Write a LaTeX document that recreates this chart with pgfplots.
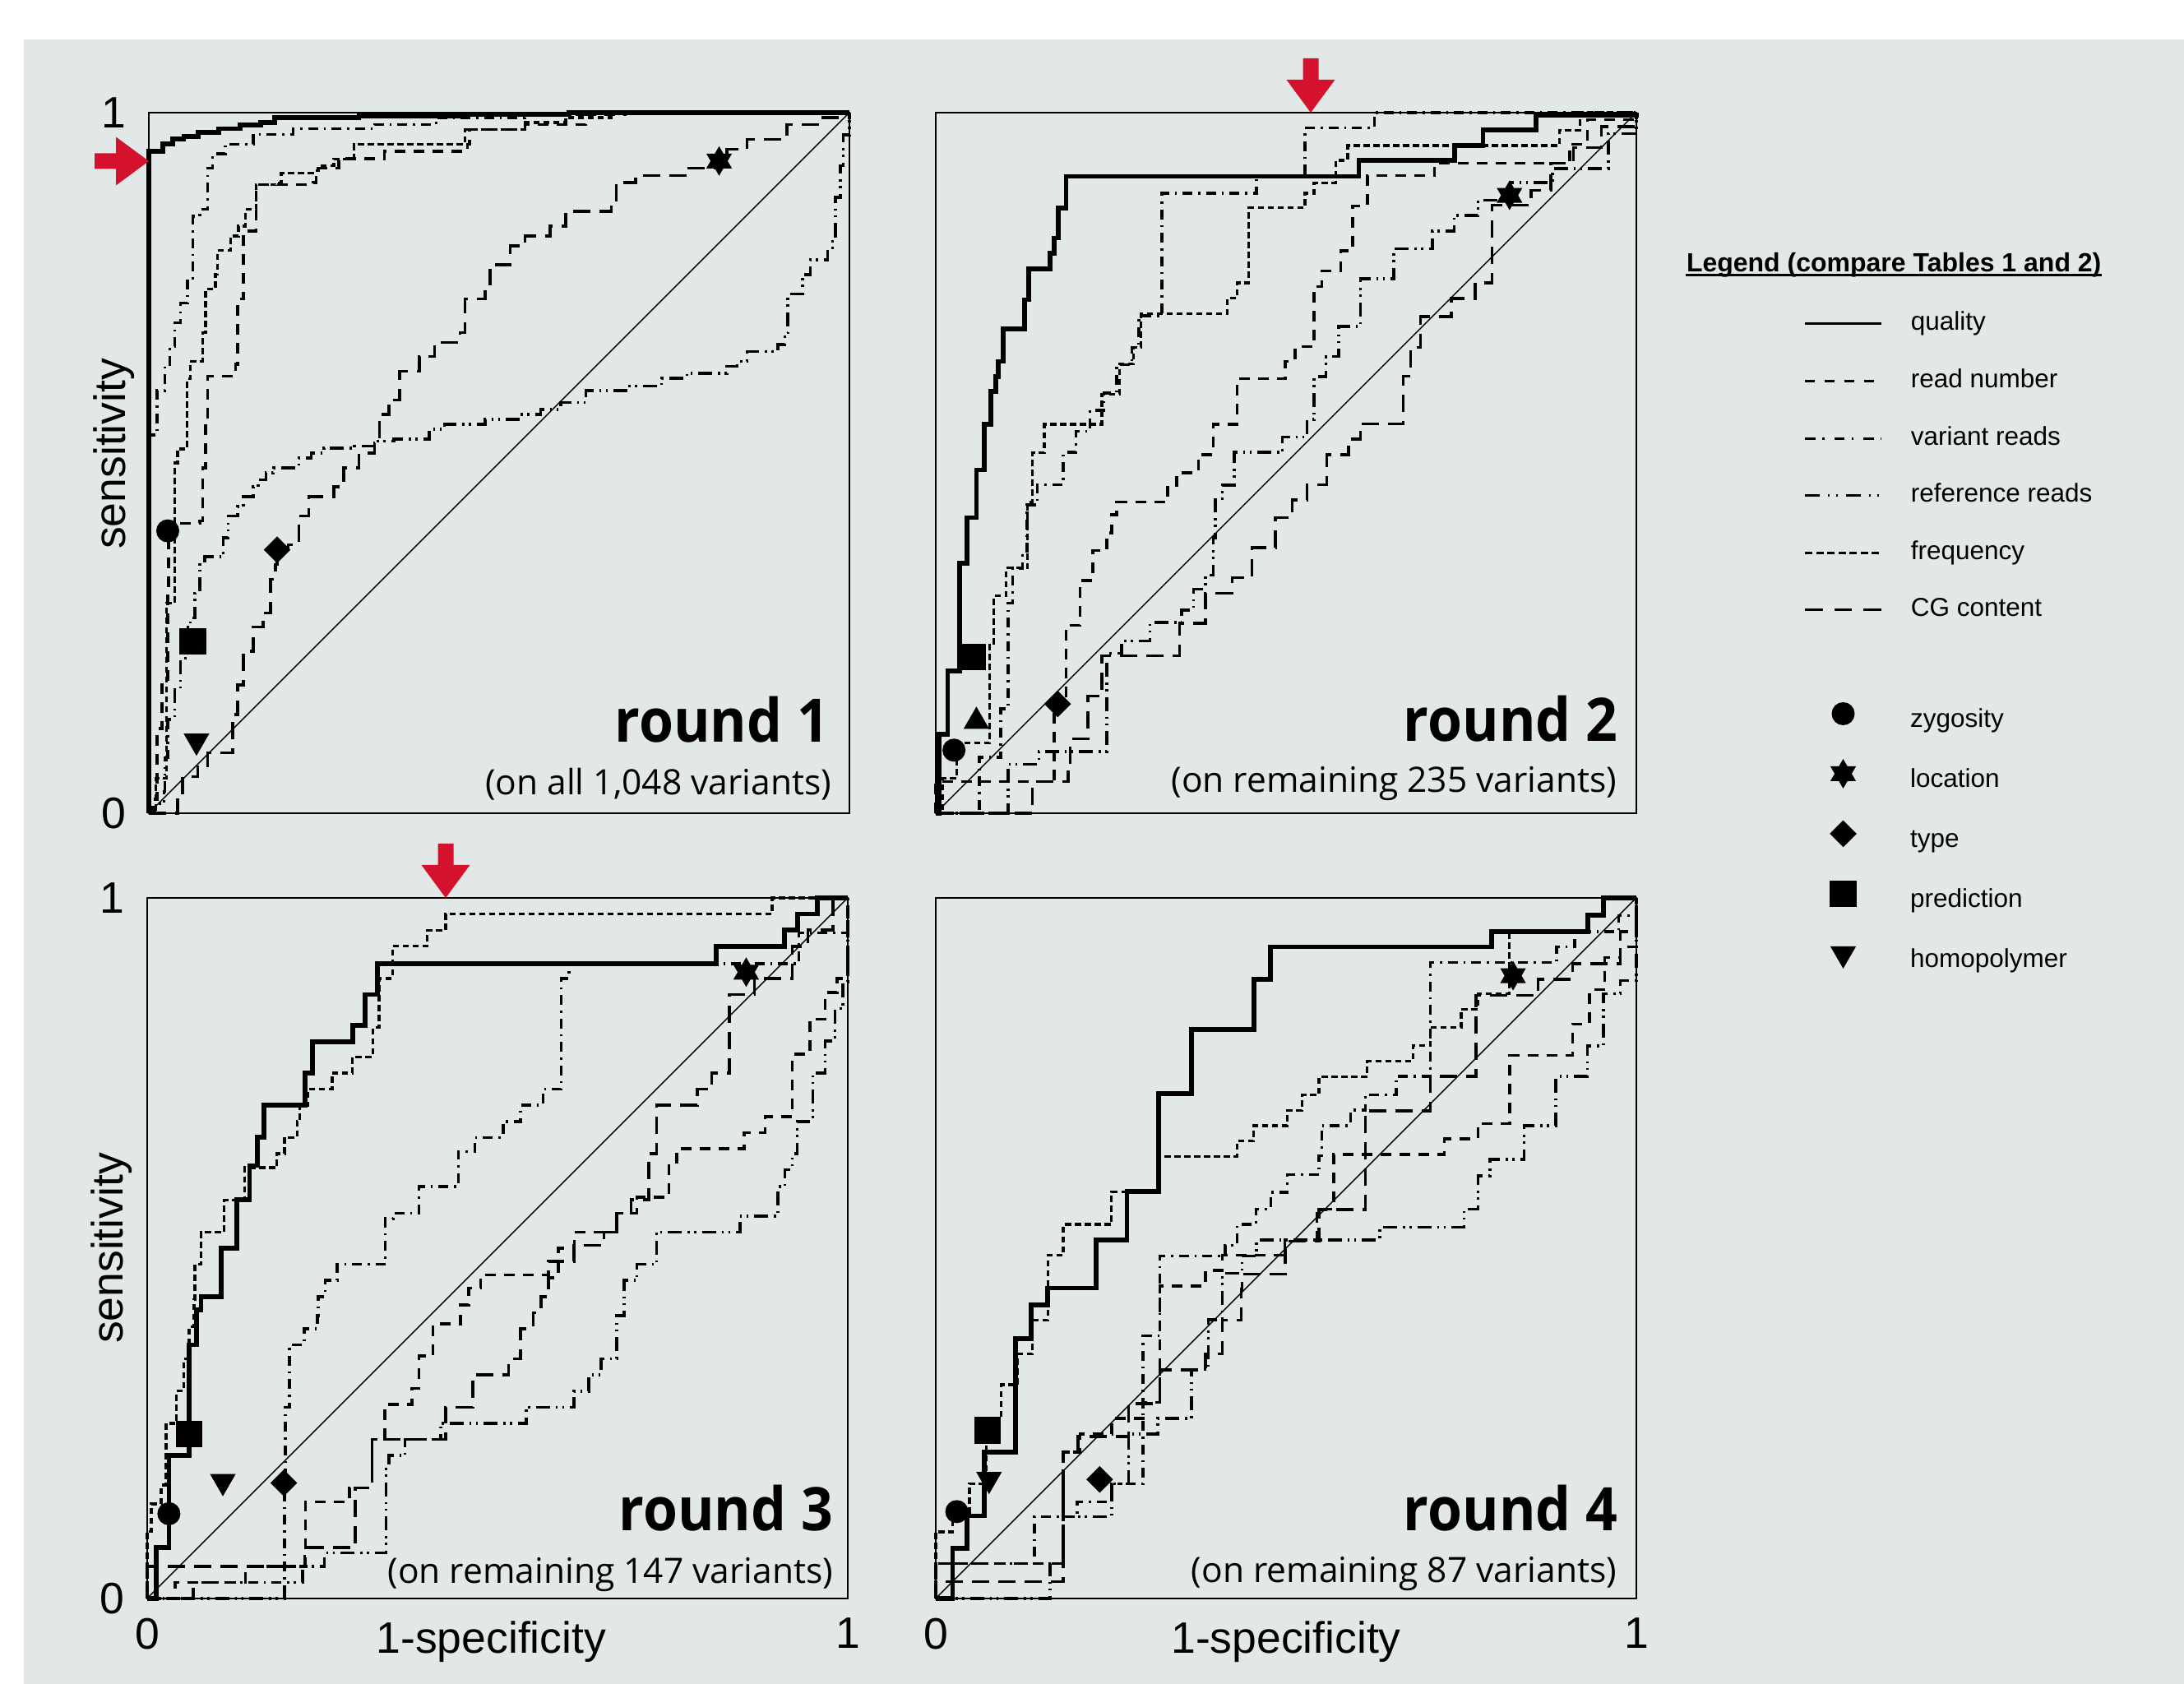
\documentclass[border=0pt]{standalone}
\usepackage{pgfplots}
\pgfplotsset{compat=1.18}
\usepackage{fontspec}
\setmainfont{Liberation Sans}
\newfontfamily\roundfont[FakeStretch=0.93]{Open Sans}
\newfontfamily\subfont{Open Sans}
\definecolor{bg}{RGB}{226,231,231}
\definecolor{arrowred}{RGB}{213,18,46}

\pgfdeclareplotmark{hexstar}{%
  \pgfpathmoveto{\pgfpointpolar{90}{\pgfplotmarksize}}%
  \pgfpathlineto{\pgfpointpolar{210}{\pgfplotmarksize}}%
  \pgfpathlineto{\pgfpointpolar{330}{\pgfplotmarksize}}%
  \pgfpathclose
  \pgfpathmoveto{\pgfpointpolar{270}{\pgfplotmarksize}}%
  \pgfpathlineto{\pgfpointpolar{30}{\pgfplotmarksize}}%
  \pgfpathlineto{\pgfpointpolar{150}{\pgfplotmarksize}}%
  \pgfpathclose
  \pgfusepathqfillstroke
}

\tikzset{
  roundstyle/.style={inner sep=0pt, anchor=base east, font=\roundfont\bfseries\fontsize{14.6}{16}\selectfont},
  substyle/.style={inner sep=0pt, anchor=base east, font=\subfont\fontsize{8.5}{10}\selectfont},
  labstyle/.style={inner sep=0pt, anchor=base, font=\fontsize{10.7}{12}\selectfont},
}

\pgfplotsset{
  panel/.style={scale only axis, width=170.4pt, height=170.4pt, anchor=south west,
    xmin=0, xmax=1, ymin=0, ymax=1, clip=false,
    axis line style={line width=0.3pt}, major tick length=0pt,
    /pgf/number format/assume math mode=true,
    tick label style={font=\fontsize{10.7}{12}\selectfont},
    yticklabel style={xshift=-2.0pt}, xticklabel style={yshift=-1.3pt}},
  quality/.style={const plot, no marks, line width=1.15pt},
  readnum/.style={const plot, no marks, line width=0.7pt, dash pattern=on 2.6pt off 2pt},
  varreads/.style={const plot, no marks, line width=0.7pt, dash pattern=on 2.4pt off 1.4pt on 0.5pt off 1.4pt},
  refreads/.style={const plot, no marks, line width=0.7pt, dash pattern=on 3.4pt off 1.4pt on 0.5pt off 1.1pt on 0.5pt off 1.4pt},
  freq/.style={const plot, no marks, line width=0.65pt, dash pattern=on 1.5pt off 0.9pt},
  cg/.style={const plot, no marks, line width=0.7pt, dash pattern=on 4.2pt off 2.2pt},
  diag/.style={no marks, line width=0.28pt},
  zyg/.style={only marks, mark=*, mark size=2.6pt, mark options={fill=black}},
  loc/.style={only marks, mark=hexstar, mark size=3.2pt, mark options={fill=black}},
  typ/.style={only marks, mark=square*, mark size=2.1pt, mark options={rotate=45, fill=black}},
  pred/.style={only marks, mark=square*, mark size=3.05pt, mark options={fill=black}},
  homo/.style={only marks, mark=triangle*, mark size=3.2pt, mark options={rotate=180, fill=black}},
  homoup/.style={only marks, mark=triangle*, mark size=3.2pt, mark options={fill=black}},
}

\begin{document}
\begin{tikzpicture}
\fill[white] (0pt,0pt) rectangle (531.2pt,409.6pt);
\fill[bg] (5.8pt,0pt) rectangle (531.2pt,400.0pt);

% ---------------- Panel 1 ----------------
\begin{axis}[panel, at={(36.2pt,211.8pt)}, xtick=\empty, ytick={0,1}]
\addplot[diag] coordinates {(0,0)(1,1)};
\addplot[cg] coordinates {(0,0)(0.041,0.024)(0.048,0.052)(0.070,0.066)(0.084,0.086)(0.120,0.141)(0.127,0.183)(0.135,0.231)(0.149,0.266)(0.163,0.286)(0.174,0.334)(0.181,0.355)(0.183,0.376)(0.199,0.383)(0.214,0.424)(0.228,0.452)(0.264,0.466)(0.278,0.493)(0.300,0.514)(0.322,0.528)(0.329,0.569)(0.343,0.590)(0.358,0.631)(0.386,0.652)(0.408,0.672)(0.444,0.686)(0.451,0.734)(0.480,0.755)(0.487,0.783)(0.516,0.810)(0.537,0.824)(0.573,0.838)(0.595,0.859)(0.660,0.872)(0.667,0.900)(0.695,0.910)(0.768,0.921)(0.811,0.931)(0.825,0.948)(0.854,0.962)(0.911,0.983)(0.962,0.993)(1,1)};
\addplot[refreads] coordinates {(0,0)(0.009,0.014)(0.022,0.031)(0.023,0.079)(0.027,0.134)(0.037,0.176)(0.045,0.221)(0.052,0.266)(0.059,0.279)(0.066,0.314)(0.073,0.355)(0.080,0.366)(0.106,0.393)(0.113,0.424)(0.127,0.438)(0.135,0.452)(0.149,0.466)(0.156,0.476)(0.167,0.486)(0.178,0.493)(0.214,0.507)(0.232,0.514)(0.250,0.521)(0.293,0.524)(0.322,0.531)(0.350,0.534)(0.400,0.548)(0.422,0.555)(0.480,0.562)(0.530,0.569)(0.559,0.576)(0.588,0.586)(0.624,0.603)(0.681,0.610)(0.732,0.621)(0.768,0.628)(0.825,0.638)(0.840,0.645)(0.854,0.659)(0.898,0.669)(0.908,0.686)(0.912,0.741)(0.933,0.769)(0.944,0.790)(0.969,0.807)(0.976,0.824)(0.980,0.879)(0.987,0.924)(0.991,0.968)(1,1)};
\addplot[freq] coordinates {(0,0)(0.010,0.05)(0.025,0.30)(0.037,0.50)(0.041,0.52)(0.055,0.62)(0.059,0.645)(0.077,0.686)(0.081,0.748)(0.095,0.769)(0.098,0.803)(0.117,0.824)(0.128,0.838)(0.138,0.862)(0.153,0.897)(0.182,0.900)(0.189,0.914)(0.236,0.917)(0.242,0.924)(0.264,0.934)(0.293,0.955)(0.451,0.976)(0.537,0.986)(0.595,0.993)(0.66,1)(1,1)};
\addplot[readnum] coordinates {(0,0)(0.005,0.02)(0.012,0.121)(0.019,0.183)(0.027,0.32)(0.028,0.403)(0.037,0.414)(0.073,0.417)(0.077,0.493)(0.081,0.562)(0.084,0.624)(0.124,0.641)(0.127,0.734)(0.135,0.831)(0.153,0.897)(0.235,0.900)(0.239,0.921)(0.271,0.934)(0.336,0.945)(0.455,0.955)(0.458,0.976)(0.537,0.983)(0.624,0.997)(0.68,1)(1,1)};
\addplot[varreads] coordinates {(0,0)(0,0.54)(0.012,0.603)(0.023,0.638)(0.030,0.666)(0.037,0.70)(0.045,0.728)(0.055,0.762)(0.063,0.852)(0.073,0.862)(0.084,0.921)(0.091,0.941)(0.109,0.955)(0.149,0.969)(0.206,0.977)(0.322,0.983)(0.41,0.993)(0.537,0.997)(0.62,1)(1,1)};
\addplot[quality] coordinates {(0,0)(0,0.945)(0.02,0.955)(0.034,0.962)(0.05,0.966)(0.07,0.972)(0.1,0.977)(0.13,0.982)(0.16,0.986)(0.18,0.993)(0.3,0.995)(0.45,0.998)(0.6,1)(1,1)};
\addplot[zyg] coordinates {(0.027,0.403)};
\addplot[pred] coordinates {(0.063,0.245)};
\addplot[homo] coordinates {(0.068,0.103)};
\addplot[typ] coordinates {(0.183,0.376)};
\addplot[loc] coordinates {(0.814,0.931)};
\node[roundstyle] at ([xshift=-4.8pt,yshift=17.2pt]rel axis cs:1,0) {round 1};
\node[substyle] at ([xshift=-4.2pt,yshift=4.4pt]rel axis cs:1,0) {(on all 1,048 variants)};
\node[labstyle, rotate=90] at ([xshift=-5.8pt]rel axis cs:0,0.513) {sensitivity};
\end{axis}

% ---------------- Panel 2 ----------------
\begin{axis}[panel, at={(227.6pt,211.8pt)}, xtick=\empty, ytick=\empty]
\addplot[diag] coordinates {(0,0)(1,1)};
\addplot[cg] coordinates {(0,0)(0.138,0.045)(0.189,0.07)(0.192,0.106)(0.217,0.167)(0.237,0.225)(0.348,0.271)(0.385,0.314)(0.423,0.336)(0.451,0.379)(0.485,0.422)(0.509,0.447)(0.530,0.469)(0.558,0.512)(0.589,0.534)(0.606,0.556)(0.667,0.624)(0.678,0.665)(0.692,0.709)(0.736,0.735)(0.770,0.757)(0.794,0.868)(0.850,0.889)(0.878,0.928)(0.910,0.950)(0.95,0.98)(1,1)};
\addplot[refreads] coordinates {(0,0)(0.103,0.07)(0.147,0.088)(0.244,0.228)(0.265,0.246)(0.306,0.272)(0.351,0.29)(0.368,0.32)(0.385,0.34)(0.396,0.393)(0.399,0.447)(0.409,0.468)(0.426,0.515)(0.495,0.537)(0.530,0.562)(0.540,0.623)(0.557,0.652)(0.575,0.695)(0.606,0.763)(0.654,0.806)(0.709,0.831)(0.740,0.853)(0.774,0.875)(0.82,0.9)(0.88,0.92)(0.96,0.97)(1,1)};
\addplot[readnum] coordinates {(0,0)(0,0.045)(0.169,0.156)(0.186,0.268)(0.206,0.332)(0.224,0.375)(0.244,0.40)(0.251,0.426)(0.258,0.444)(0.331,0.465)(0.344,0.486)(0.375,0.512)(0.396,0.555)(0.43,0.62)(0.499,0.645)(0.513,0.666)(0.54,0.752)(0.551,0.774)(0.578,0.803)(0.595,0.867)(0.616,0.91)(0.712,0.928)(0.905,0.955)(0.93,0.99)(1,1)};
\addplot[freq] coordinates {(0,0)(0.01,0.05)(0.03,0.10)(0.077,0.24)(0.083,0.31)(0.10,0.35)(0.131,0.444)(0.138,0.515)(0.155,0.555)(0.237,0.598)(0.262,0.641)(0.282,0.665)(0.293,0.713)(0.416,0.735)(0.43,0.757)(0.447,0.864)(0.527,0.885)(0.54,0.9)(0.571,0.932)(0.588,0.953)(0.89,0.975)(0.92,1)(1,1)};
\addplot[varreads] coordinates {(0,0)(0.062,0.08)(0.093,0.149)(0.103,0.30)(0.11,0.35)(0.124,0.37)(0.13,0.44)(0.145,0.469)(0.182,0.515)(0.2,0.545)(0.22,0.575)(0.24,0.6)(0.258,0.64)(0.28,0.665)(0.29,0.71)(0.323,0.885)(0.458,0.91)(0.527,0.978)(0.626,1)(1,1)};
\addplot[quality] coordinates {(0,0)(0.005,0.113)(0.017,0.203)(0.034,0.357)(0.045,0.422)(0.058,0.490)(0.069,0.555)(0.079,0.602)(0.086,0.623)(0.089,0.645)(0.096,0.691)(0.127,0.733)(0.133,0.777)(0.163,0.799)(0.169,0.821)(0.175,0.864)(0.186,0.909)(0.604,0.932)(0.741,0.953)(0.781,0.975)(0.857,0.996)(1,1)};
\addplot[zyg] coordinates {(0.026,0.090)};
\addplot[pred] coordinates {(0.053,0.223)};
\addplot[homoup] coordinates {(0.058,0.131)};
\addplot[typ] coordinates {(0.174,0.156)};
\addplot[loc] coordinates {(0.819,0.882)};
\node[roundstyle] at ([xshift=-4.4pt,yshift=17.5pt]rel axis cs:1,0) {round 2};
\node[substyle] at ([xshift=-4.6pt,yshift=5.0pt]rel axis cs:1,0) {(on remaining 235 variants)};
\end{axis}

% ---------------- Panel 3 ----------------
\begin{axis}[panel, at={(35.8pt,20.8pt)}, xtick={0,1}, ytick={0,1}]
\addplot[diag] coordinates {(0,0)(1,1)};
\addplot[cg] coordinates {(0,0)(0,0.046)(0.225,0.073)(0.297,0.158)(0.321,0.227)(0.426,0.273)(0.465,0.319)(0.516,0.342)(0.533,0.385)(0.551,0.408)(0.562,0.431)(0.573,0.458)(0.587,0.481)(0.609,0.504)(0.652,0.523)(0.670,0.550)(0.691,0.569)(0.716,0.635)(0.727,0.704)(0.785,0.727)(0.806,0.750)(0.831,0.862)(0.867,0.885)(0.921,0.931)(0.943,0.954)(0.979,1)(1,1)};
\addplot[refreads] coordinates {(0,0)(0.196,0.023)(0.222,0.046)(0.253,0.065)(0.341,0.185)(0.345,0.204)(0.368,0.227)(0.419,0.25)(0.541,0.273)(0.609,0.296)(0.630,0.319)(0.648,0.342)(0.670,0.404)(0.681,0.454)(0.699,0.477)(0.727,0.523)(0.846,0.546)(0.900,0.588)(0.910,0.612)(0.921,0.635)(0.928,0.681)(0.950,0.75)(0.968,0.796)(0.982,0.842)(0.993,0.88)(1,1)};
\addplot[readnum] coordinates {(0,0)(0.04,0.023)(0.140,0.046)(0.226,0.138)(0.289,0.158)(0.321,0.227)(0.339,0.277)(0.378,0.3)(0.388,0.346)(0.408,0.392)(0.447,0.419)(0.459,0.443)(0.476,0.462)(0.573,0.481)(0.587,0.5)(0.61,0.523)(0.670,0.550)(0.699,0.573)(0.745,0.623)(0.756,0.642)(0.852,0.665)(0.882,0.688)(0.921,0.777)(0.946,0.827)(0.968,0.865)(0.985,0.885)(1,0.95)(1,1)};
\addplot[varreads] coordinates {(0,0)(0.066,0.023)(0.196,0.165)(0.197,0.273)(0.203,0.362)(0.224,0.385)(0.243,0.404)(0.244,0.431)(0.254,0.454)(0.271,0.477)(0.340,0.542)(0.351,0.55)(0.388,0.588)(0.444,0.638)(0.468,0.658)(0.508,0.681)(0.533,0.704)(0.565,0.727)(0.591,0.885)(0.602,0.906)(0.93,0.95)(1,1)};
\addplot[freq] coordinates {(0,0)(0,0.096)(0.006,0.135)(0.02,0.162)(0.027,0.25)(0.042,0.296)(0.052,0.342)(0.060,0.388)(0.067,0.427)(0.068,0.477)(0.077,0.523)(0.110,0.569)(0.139,0.615)(0.185,0.635)(0.196,0.658)(0.214,0.681)(0.218,0.704)(0.229,0.727)(0.264,0.750)(0.293,0.773)(0.322,0.815)(0.331,0.885)(0.350,0.931)(0.400,0.954)(0.426,0.977)(0.892,1)(1,1)};
\addplot[quality] coordinates {(0,0)(0.013,0.073)(0.031,0.204)(0.060,0.362)(0.070,0.412)(0.077,0.431)(0.106,0.5)(0.128,0.569)(0.146,0.618)(0.157,0.658)(0.167,0.704)(0.225,0.750)(0.236,0.795)(0.293,0.818)(0.311,0.862)(0.329,0.906)(0.812,0.931)(0.910,0.954)(0.928,0.977)(0.957,1)(1,1)};
\addplot[zyg] coordinates {(0.031,0.121)};
\addplot[pred] coordinates {(0.060,0.235)};
\addplot[homo] coordinates {(0.108,0.167)};
\addplot[typ] coordinates {(0.195,0.165)};
\addplot[loc] coordinates {(0.855,0.894)};
\node[roundstyle] at ([xshift=-3.4pt,yshift=16.4pt]rel axis cs:1,0) {round 3};
\node[substyle] at ([xshift=-3.4pt,yshift=3.6pt]rel axis cs:1,0) {(on remaining 147 variants)};
\node[labstyle, rotate=90] at ([xshift=-5.8pt]rel axis cs:0,0.50) {sensitivity};
\node[labstyle] at ([yshift=-13.4pt]rel axis cs:0.491,0) {1-specificity};
\end{axis}

% ---------------- Panel 4 ----------------
\begin{axis}[panel, at={(227.6pt,20.8pt)}, xtick={0,1}, ytick=\empty]
\addplot[diag] coordinates {(0,0)(1,1)};
\addplot[cg] coordinates {(0,0)(0,0.024)(0.182,0.209)(0.203,0.231)(0.275,0.278)(0.320,0.326)(0.385,0.349)(0.409,0.397)(0.436,0.441)(0.437,0.463)(0.499,0.510)(0.547,0.555)(0.613,0.696)(0.706,0.745)(0.771,0.861)(0.860,0.884)(0.909,0.906)(0.977,0.952)(1,1)};
\addplot[refreads] coordinates {(0,0)(0.163,0.050)(0.182,0.117)(0.251,0.164)(0.275,0.235)(0.317,0.257)(0.365,0.327)(0.389,0.398)(0.409,0.464)(0.437,0.489)(0.458,0.512)(0.634,0.53)(0.754,0.556)(0.774,0.603)(0.791,0.627)(0.840,0.675)(0.885,0.745)(0.930,0.789)(0.953,0.863)(0.977,0.882)(1,1)};
\addplot[readnum] coordinates {(0,0)(0,0.05)(0.182,0.209)(0.206,0.235)(0.251,0.257)(0.296,0.280)(0.320,0.446)(0.385,0.468)(0.409,0.490)(0.498,0.512)(0.544,0.556)(0.568,0.634)(0.726,0.656)(0.774,0.678)(0.819,0.775)(0.909,0.820)(0.933,0.869)(0.955,0.915)(0.977,0.93)(1,1)};
\addplot[varreads] coordinates {(0,0)(0,0.050)(0.141,0.117)(0.202,0.138)(0.251,0.164)(0.296,0.230)(0.296,0.375)(0.320,0.489)(0.413,0.504)(0.430,0.534)(0.457,0.556)(0.478,0.580)(0.502,0.605)(0.547,0.632)(0.551,0.675)(0.592,0.697)(0.613,0.719)(0.657,0.745)(0.706,0.908)(0.886,0.930)(0.912,0.952)(0.975,0.975)(1,1)};
\addplot[freq] coordinates {(0,0)(0,0.095)(0.024,0.117)(0.048,0.164)(0.072,0.257)(0.093,0.305)(0.117,0.349)(0.138,0.397)(0.160,0.490)(0.182,0.534)(0.251,0.580)(0.318,0.631)(0.430,0.653)(0.454,0.675)(0.502,0.697)(0.523,0.719)(0.547,0.745)(0.616,0.767)(0.681,0.789)(0.706,0.815)(0.750,0.841)(0.774,0.863)(0.819,0.952)(0.931,0.975)(0.953,1)(1,1)};
\addplot[quality] coordinates {(0,0)(0.024,0.072)(0.045,0.118)(0.069,0.209)(0.114,0.371)(0.136,0.419)(0.160,0.443)(0.229,0.512)(0.273,0.581)(0.318,0.721)(0.365,0.812)(0.454,0.884)(0.478,0.930)(0.793,0.952)(0.931,0.975)(0.953,1)(1,1)};
\addplot[zyg] coordinates {(0.030,0.124)};
\addplot[pred] coordinates {(0.074,0.240)};
\addplot[homo] coordinates {(0.076,0.170)};
\addplot[typ] coordinates {(0.234,0.170)};
\addplot[loc] coordinates {(0.824,0.889)};
\node[roundstyle] at ([xshift=-4.4pt,yshift=16.4pt]rel axis cs:1,0) {round 4};
\node[substyle] at ([xshift=-4.6pt,yshift=3.8pt]rel axis cs:1,0) {(on remaining 87 variants)};
\node[labstyle] at ([yshift=-13.4pt]rel axis cs:0.50,0) {1-specificity};
\end{axis}

% ---------------- Legend: lines ----------------
\begin{axis}[at={(0pt,0pt)}, anchor=south west, scale only axis, width=531.2pt, height=409.6pt,
  hide axis, xmin=0, xmax=1, ymin=0, ymax=1,
  legend cell align=left,
  legend style={draw=none, fill=none, inner sep=0pt, outer sep=0pt, anchor=north west,
    at={(0.82605,0.81567)}, font=\fontsize{6.3}{7.5}\selectfont, row sep=7.35pt, column sep=6.8pt,
    nodes={inner sep=0pt, outer sep=0pt, text height=4.6pt, text depth=1.4pt}},
  legend image code/.code={\draw[#1] (0pt,0pt) -- (18.6pt,0pt); \path (0pt,-3pt) (0pt,3pt);}]
\addlegendimage{line width=0.57pt}\addlegendentry{quality}
\addlegendimage{line width=0.57pt, dash pattern=on 2.4pt off 2.4pt}\addlegendentry{read number}
\addlegendimage{line width=0.57pt, dash pattern=on 2.5pt off 1.7pt on 0.5pt off 2.4pt}\addlegendentry{variant reads}
\addlegendimage{line width=0.57pt, dash pattern=on 3.6pt off 2pt on 0.4pt off 1.6pt on 0.4pt off 2pt}\addlegendentry{reference reads}
\addlegendimage{line width=0.57pt, dash pattern=on 1.8pt off 0.9pt}\addlegendentry{frequency}
\addlegendimage{line width=0.57pt, dash pattern=on 4.3pt off 2.8pt}\addlegendentry{CG content}
\end{axis}

% ---------------- Legend: markers ----------------
\begin{axis}[at={(0pt,0pt)}, anchor=south west, scale only axis, width=531.2pt, height=409.6pt,
  hide axis, xmin=0, xmax=1, ymin=0, ymax=1,
  legend cell align=left,
  legend style={draw=none, fill=none, inner sep=0pt, outer sep=0pt, anchor=north west,
    at={(0.82605,0.58643)}, font=\fontsize{6.3}{7.5}\selectfont, row sep=6.2pt, column sep=6.8pt,
    nodes={inner sep=0pt, outer sep=0pt, text height=7pt, text depth=0.2pt}},
  legend image code/.code={\draw[#1] plot[only marks] coordinates {(9.3pt,0pt)}; \path (0pt,-4pt) (18.6pt,4pt);}]
\addlegendimage{mark=*, mark size=2.6pt, mark options={fill=black}}\addlegendentry{zygosity}
\addlegendimage{mark=hexstar, mark size=3.2pt, mark options={fill=black}}\addlegendentry{location}
\addlegendimage{mark=square*, mark size=2.1pt, mark options={rotate=45, fill=black}}\addlegendentry{type}
\addlegendimage{mark=square*, mark size=3.05pt, mark options={fill=black}}\addlegendentry{prediction}
\addlegendimage{mark=triangle*, mark size=3.2pt, mark options={rotate=180, fill=black}}\addlegendentry{homopolymer}
\end{axis}

% legend title
\node[anchor=base west, inner sep=0pt, font=\bfseries\fontsize{6.4}{7.7}\selectfont] (T) at (410pt,343.4pt) {Legend (compare Tables 1 and 2)};
\draw[line width=0.5pt] ([yshift=-0.7pt]T.base west) -- ([yshift=-0.7pt]T.base east);

% red arrows
\fill[arrowred] (23.0pt,368.5pt) -- (28.2pt,368.5pt) -- (28.2pt,364.5pt) -- (36.2pt,370.4pt) -- (28.2pt,376.3pt) -- (28.2pt,372.3pt) -- (23.0pt,372.3pt) -- cycle;
\fill[arrowred] (316.9pt,395.4pt) -- (316.9pt,390.2pt) -- (312.9pt,390.2pt) -- (318.8pt,382.2pt) -- (324.7pt,390.2pt) -- (320.7pt,390.2pt) -- (320.7pt,395.4pt) -- cycle;
\fill[arrowred] (106.5pt,204.4pt) -- (106.5pt,199.2pt) -- (102.5pt,199.2pt) -- (108.4pt,191.2pt) -- (114.3pt,199.2pt) -- (110.3pt,199.2pt) -- (110.3pt,204.4pt) -- cycle;

\pgfresetboundingbox
\useasboundingbox (0pt,0pt) rectangle (531.2pt,409.6pt);
\end{tikzpicture}
\end{document}
